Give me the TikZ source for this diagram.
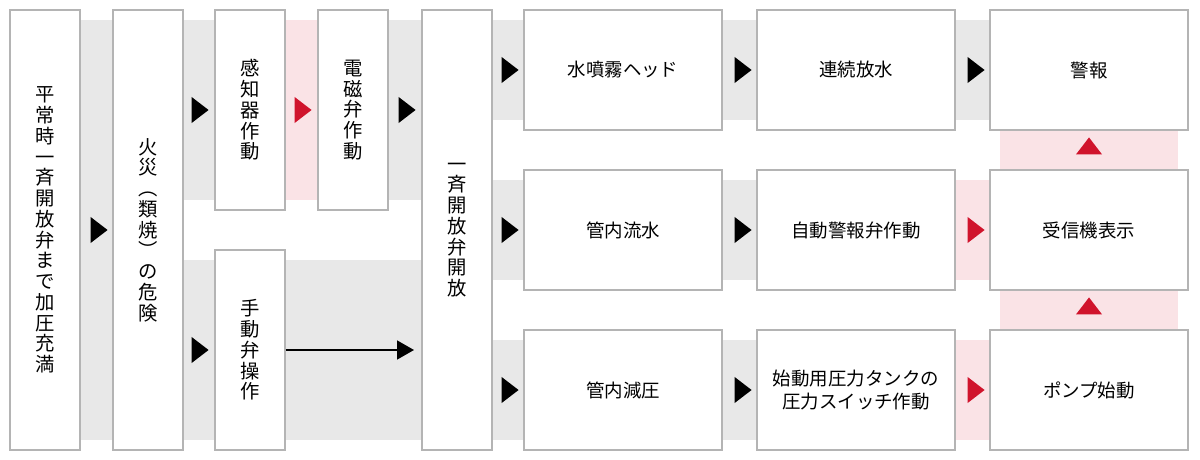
\documentclass[tikz,border=0pt]{standalone}
\usepackage{fontspec}
\setmainfont{Noto Sans CJK JP}
\usetikzlibrary{shapes.geometric, arrows.meta}
\definecolor{bandgray}{HTML}{E8E8E8}
\definecolor{bandpink}{HTML}{FAE3E6}
\definecolor{boxline}{HTML}{B4B4B4}
\definecolor{tipred}{HTML}{D0142C}

\begin{document}
\begin{tikzpicture}[
        x=0.2mm, y=-0.2mm,
        box/.style={rectangle, draw=boxline, line width=0.8pt, fill=white, inner sep=0pt, align=center, font=\fontsize{10.5}{13}\selectfont},
        vbox/.style={box, minimum width=14mm, font=\fontsize{11}{11.8}\selectfont},
        tip/.style={isosceles triangle, isosceles triangle apex angle=75, fill=black, inner sep=0pt, minimum height=3.4mm, minimum width=4.2mm, shape border rotate=#1},
        tip/.default=0,
        arrow/.style={-{Triangle[length=3.4mm,width=3.8mm]}, line width=0.8pt}
    ]
        \useasboundingbox (0,0) rectangle (1200,460);
        % Bands
        \fill[bandgray] (80,20) rectangle (113,440);
        \fill[bandgray] (183,20) rectangle (215,200);
        \fill[bandpink] (285,20) rectangle (318,200);
        \fill[bandgray] (388,20) rectangle (422,200);
        \fill[bandgray] (183,260) rectangle (422,440);
        \foreach \top in {20,180,340}
            \fill[bandgray] (492,\top) rectangle (524,\top+100);
        \foreach \top in {20,180,340}
            \fill[bandgray] (722,\top) rectangle (757,\top+100);
        \fill[bandgray] (955,20) rectangle (990,120);
        \fill[bandpink] (955,180) rectangle (990,280);
        \fill[bandpink] (955,340) rectangle (990,440);
        \fill[bandpink] (1000,130) rectangle (1178,170);
        \fill[bandpink] (1000,290) rectangle (1178,330);

        % Blocks
        \node[vbox, minimum height=88mm] (normal) at (45,230) {平\\常\\時\\一\\斉\\開\\放\\弁\\ま\\で\\加\\圧\\充\\満};
        \node[vbox, minimum height=88mm] (fire) at (148,230) {火\\災\\︵\\類\\焼\\︶\\の\\危\\険};
        \node[vbox, minimum height=40mm] (sensor) at (250,110) {感\\知\\器\\作\\動};
        \node[vbox, minimum height=40mm] (solenoid) at (353,110) {電\\磁\\弁\\作\\動};
        \node[vbox, minimum height=40mm] (manual) at (250,350) {手\\動\\弁\\操\\作};
        \node[vbox, minimum height=88mm] (deluge) at (457,230) {一\\斉\\開\\放\\弁\\開\\放};
        \node[box, minimum width=39.6mm, minimum height=24mm] (head) at (623,70) {水噴霧ヘッド};
        \node[box, minimum width=39.6mm, minimum height=24mm] (flow) at (623,230) {管内流水};
        \node[box, minimum width=39.6mm, minimum height=24mm] (drop) at (623,390) {管内減圧};
        \node[box, minimum width=39.6mm, minimum height=24mm] (spray) at (856,70) {連続放水};
        \node[box, minimum width=39.6mm, minimum height=24mm] (alarmvalve) at (856,230) {自動警報弁作動};
        \node[box, minimum width=39.6mm, minimum height=24mm] (tank) at (856,390) {始動用圧力タンクの\\圧力スイッチ作動};
        \node[box, minimum width=39.6mm, minimum height=24mm] (alarm) at (1089,70) {警報};
        \node[box, minimum width=39.6mm, minimum height=24mm] (panel) at (1089,230) {受信機表示};
        \node[box, minimum width=39.6mm, minimum height=24mm] (pump) at (1089,390) {ポンプ始動};

        % Arrow tips
        \node[tip] (t1) at (97,230) {};
        \node[tip] (t2) at (198,110) {};
        \node[tip] (t3) at (198,350) {};
        \node[tip, fill=tipred] (t4) at (301,110) {};
        \node[tip] (t5) at (405,110) {};
        \foreach \y [count=\i] in {70,230,390} {
            \node[tip] (ta\i) at (508,\y) {};
            \node[tip] (tb\i) at (741,\y) {};
        }
        \node[tip] (tc1) at (974,70) {};
        \node[tip, fill=tipred] (tc2) at (974,230) {};
        \node[tip, fill=tipred] (tc3) at (974,390) {};
        \node[tip=90, fill=tipred] (tu1) at (1089,148) {};
        \node[tip=90, fill=tipred] (tu2) at (1089,308) {};

        % Arrows
        \coordinate (mend) at (414,350);
        \draw[arrow] (manual.east |- mend) -- (mend);
    \end{tikzpicture}
\end{document}
